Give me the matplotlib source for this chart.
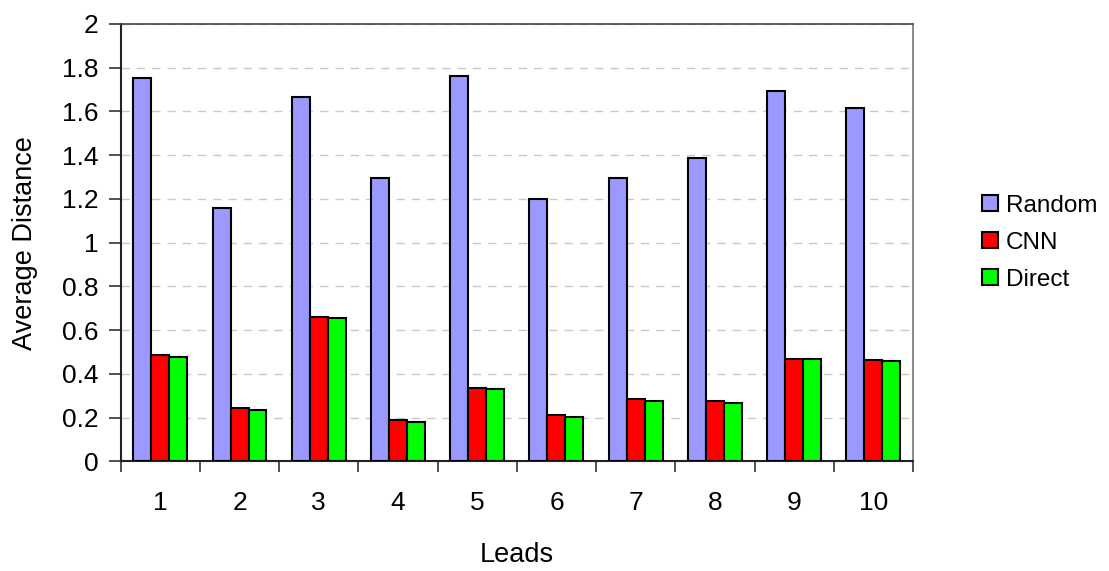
import numpy as np
import matplotlib
matplotlib.use('Agg')
import matplotlib.pyplot as plt

plt.rcParams['font.family'] = ['Liberation Sans', 'DejaVu Sans']

# Average distance per lead for each method
leads = ['1', '2', '3', '4', '5', '6', '7', '8', '9', '10']
random_vals = [1.753, 1.158, 1.664, 1.294, 1.763, 1.198, 1.297, 1.387, 1.695, 1.615]
cnn_vals = [0.486, 0.245, 0.662, 0.189, 0.336, 0.210, 0.286, 0.277, 0.470, 0.464]
direct_vals = [0.479, 0.237, 0.654, 0.180, 0.330, 0.204, 0.277, 0.269, 0.466, 0.460]

series = [('Random', random_vals, '#9999FF'),
          ('CNN', cnn_vals, '#FF0000'),
          ('Direct', direct_vals, '#00FF00')]

fig = plt.figure(figsize=(11.09, 5.71), dpi=100)
ax = fig.add_axes([0.1088, 0.192, 0.7145, 0.766])

x = np.arange(1, len(leads) + 1)
width = 0.227
for i, (name, vals, color) in enumerate(series):
    ax.bar(x + (i - 1) * width, vals, width, color=color, edgecolor='black',
           linewidth=1.5, label=name, zorder=3)

ax.set_xlim(0.5, len(leads) + 0.5)
ax.set_ylim(0, 2)
ax.set_yticks(np.arange(0, 2.01, 0.2))
ax.set_yticklabels(['0', '0.2', '0.4', '0.6', '0.8', '1', '1.2', '1.4', '1.6', '1.8', '2'])
ax.set_xticks(x)
ax.set_xticklabels(leads)
ax.set_xticks(np.arange(0.5, len(leads) + 1), minor=True)

ax.tick_params(axis='x', which='major', length=0, labelsize=19, pad=21)
ax.tick_params(axis='x', which='minor', length=8, width=1.2, color='#333333')
ax.tick_params(axis='y', length=9, width=1.2, color='#333333', labelsize=19, pad=7)

ax.yaxis.grid(True, linestyle=(0, (6, 5)), color='#C8C8C8', linewidth=1, zorder=0)
ax.set_axisbelow(True)

for side in ['left', 'bottom']:
    ax.spines[side].set_color('#222222')
    ax.spines[side].set_linewidth(1.5)
ax.spines['top'].set_color('#444444')
ax.spines['top'].set_linewidth(1.2)
ax.spines['right'].set_color('#777777')
ax.spines['right'].set_linewidth(1.2)

ax.set_ylabel('Average Distance', fontsize=19.5, labelpad=17)
ax.set_xlabel('Leads', fontsize=19.5, labelpad=20)

leg = ax.legend(loc='center left', bbox_to_anchor=(1.06, 0.5), frameon=False,
                fontsize=17.5, handlelength=0.62, handleheight=0.62,
                handletextpad=0.35, labelspacing=0.62)

plt.savefig('out.png', dpi=100)
